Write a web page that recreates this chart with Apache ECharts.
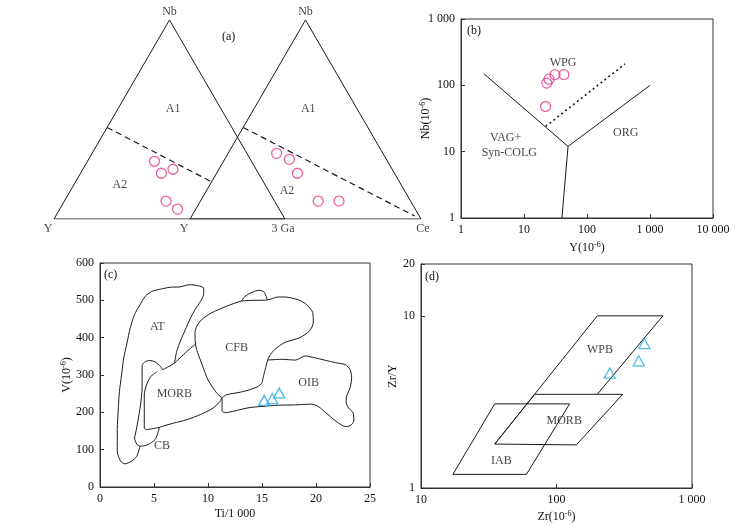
<!DOCTYPE html>
<html><head><meta charset="utf-8">
<script src="https://cdn.jsdelivr.net/npm/echarts@6/dist/echarts.min.js"></script>
<style>html,body{margin:0;padding:0;background:#fff}#c{width:744px;height:525px}</style>
</head><body><div id="c"></div>
<script>
// ================= DATA =================
// (a) ternary diagrams, points as [Nb, Y, third apex] (percent)
const aTriangle = [[100,0,0],[0,100,0],[0,0,100],[100,0,0]];
const aLeftSamples  = [[29,42,29],[25,36,39],[23,42,35],[9,47,44],[5,44,51]];   // Nb-Y-3Ga
const aRightSamples = [[33,46,21],[30,42,28],[23,42,35],[9,40,51],[9,31,60]];   // Nb-Y-Ce
const aLeftDivider  = [[46,54,0],[18.6,22.3,59.1]];
const aRightDivider = [[46,54,0],[1.5,2,96.5]];
const aLeftVertexNames  = ['Nb','Y','3 Ga'];
const aRightVertexNames = ['Nb','Y','Ce'];
const aLeftFields  = [['A1',[55.6,20.6,23.8]],['A2',[17,63,20]]];
const aRightFields = [['A1',[55.6,21,23.4]],['A2',[14,51,35]]];

// (b) Nb - Y
const bSamples = [[22,48],[23,108],[25,124],[31,145],[43,145]];
const bLineVAG = [[2.3,150],[50,12]];
const bLineORG = [[50,12],[1000,100]];
const bLineLow = [[50,12],[40,1]];
const bLineDotted = [[22,24],[400,210]];
const bFields = [['WPG',41.6,222],['VAG+',5.12,16.2],['Syn-COLG',5.85,9.65],['ORG',411,18.9]];
const bXTicks = [1,10,100,1000,10000];
const bXTickLabels = ['1','10','100','1 000','10 000'];
const bYTicks = [1,10,100,1000];
const bYTickLabels = ['1','10','100','1 000'];

// (c) Ti/1000 - V
const cSamples = [[15.2,232],[15.95,237],[16.6,252]];
const cFieldAT = [[6.9,332],[7.1,363],[7.5,395],[7.9,421],[8.3,448],[8.8,475],[9.3,497],[9.6,517],[9.6,533],[9.1,539],[8.3,542],[7.4,536],[6.5,535],[5.6,530],[4.8,524],[4.2,511],[3.7,488],[3.2,462],[2.8,426],[2.5,386],[2.2,346],[2.0,301],[1.8,256],[1.7,212],[1.6,154],[1.6,95],[1.9,70],[2.3,62],[2.9,69],[3.4,82],[3.7,109]];
const cFieldCB = [[5.8,314],[5.6,323],[5.1,335],[4.6,339],[4.2,336],[3.9,325],[3.9,296],[3.9,266],[3.75,220],[3.5,175],[3.3,145],[3.2,131],[3.4,115],[3.7,109],[4.4,113],[5.1,127],[5.4,149],[5.5,160]];
const cMorbTop = [[5.8,314],[6.9,332],[7.7,354],[8.6,377],[8.9,384]];
const cMorbLow = [[5.3,309],[4.7,296],[4.35,277],[4.1,247],[4.1,203],[4.1,158],[4.3,154],[4.8,156],[5.5,160],[6.3,167],[6.8,171],[8.0,180],[9.3,194],[10.5,212],[11.1,229],[11.3,239]];
const cFieldCFB = [[11.3,239],[10.8,252],[10.0,287],[9.4,332],[8.95,368],[8.8,395],[8.8,413],[8.95,430],[9.4,448],[10.3,466],[11.7,484],[13.1,498],[14.35,500],[15.5,501],[16.5,509],[17.1,509],[18.4,501],[19.1,489],[19.7,467],[19.75,440],[19.4,418],[18.5,400],[17.1,387],[16.2,369],[15.7,351],[15.5,338],[15.3,315],[15.1,293],[15.0,279],[14.6,269],[13.9,261],[13.0,254],[11.7,247],[11.3,239]];
const cCFBBump = [[13.1,498],[13.4,510],[13.9,519],[14.7,527],[15.2,522],[15.5,501]];
const cFieldOIB = [[15.5,340],[16.8,342],[18.1,340],[19.0,351],[19.9,346],[21.8,333],[22.7,328],[23.15,315],[23.3,293],[23.15,265],[22.8,238],[22.8,226],[23.0,212],[23.45,198],[23.5,176],[23.15,164],[22.7,162],[22.1,171],[21.1,194],[20.2,216],[19.6,222],[18.1,220],[16.5,219],[15.0,216],[13.7,212],[12.5,204],[11.6,199],[11.3,204],[11.3,239]];
const cFields = [['AT',5.31,428],['CFB',12.65,374],['MORB',6.88,249],['CB',5.74,109],['OIB',19.32,279]];
const cXTicks = [0,5,10,15,20,25];
const cXTickLabels = ['0','5','10','15','20','25'];
const cYTicks = [0,100,200,300,400,500,600];
const cYTickLabels = ['0','100','200','300','400','500','600'];

// (d) Zr - Zr/Y
const dSamples = [[247,4.65],[404,5.48],[445,6.9]];
const dFieldWPB = [[35,1.8],[200,10],[610,10],[200,3.5]];
const dFieldMORB = [[35,1.8],[69,3.5],[308,3.5],[140,1.78],[35,1.8]];
const dFieldIAB = [[17.2,1.2],[35,3.08],[125,3.08],[60,1.2],[17.2,1.2]];
const dFields = [['WPB',209,6.35],['MORB',114,2.47],['IAB',39.2,1.44]];
const dXTicks = [10,100,1000];
const dXTickLabels = ['10','100','1 000'];
const dYTicks = [1,10,20];
const dYTickLabels = ['1','10','20'];

// ================= STYLE / LAYOUT =================
const FONT = 'Liberation Serif';
const TXT = '#111';
const LN = '#1a1a1a';
const AX = '#333';
const PINK = '#e8378f';
const CYAN = '#22a6e0';
const A_OFFSET = 0.589;   // horizontal shift of the second ternary triangle (triangle side = 1)
const H = Math.sqrt(3) / 2;

function tern(p, off) {
  const s = p[0] + p[1] + p[2];
  const nb = p[0] / s, third = p[2] / s;
  return [off + third + nb / 2, nb * H];
}
function tickFmt(ticks, labels) {
  return function (v) {
    for (let i = 0; i < ticks.length; i++) {
      const t = ticks[i];
      if (Math.abs(t - v) < 1e-9 || (t !== 0 && Math.abs(t - v) / Math.abs(t) < 1e-3)) return labels[i];
    }
    return '';
  };
}
function lineS(idx, data, extra) {
  return Object.assign({
    type: 'line', xAxisIndex: idx, yAxisIndex: idx, data: data, showSymbol: false, symbol: 'none',
    silent: true, animation: false, lineStyle: { color: LN, width: 1 }, z: 3
  }, extra || {});
}
function textS(idx, items, extra) {
  return Object.assign({
    type: 'scatter', xAxisIndex: idx, yAxisIndex: idx, symbolSize: 0, silent: true, animation: false,
    data: items.map(t => ({ name: t[0], value: t[1] })),
    label: { show: true, position: 'inside', formatter: '{b}', fontFamily: FONT, fontSize: 12, color: TXT }, z: 5
  }, extra || {});
}
function markS(idx, data, symbol, size, color) {
  return {
    type: 'scatter', xAxisIndex: idx, yAxisIndex: idx, data: data, symbol: symbol, symbolSize: size,
    animation: false, silent: true, z: 6,
    itemStyle: { color: 'rgba(255,255,255,0)', borderColor: color, borderWidth: 1.3 }
  };
}
const labelStyle = { fontFamily: FONT, fontSize: 12, color: TXT };
const nameStyle = {
  fontFamily: FONT, fontSize: 12, color: TXT,
  rich: { sup: { fontFamily: FONT, fontSize: 8, color: TXT, verticalAlign: 'top', padding: [0, 0, 6, 0] } }
};
function valAxis(idx, type, min, max, ticks, labels, name, gap, extra) {
  return Object.assign({
    type: type, gridIndex: idx, min: min, max: max,
    axisLine: { show: true, onZero: false, lineStyle: { color: AX, width: 1 } },
    axisTick: { show: true, inside: true, length: 4, lineStyle: { color: AX } },
    axisLabel: Object.assign({ formatter: tickFmt(ticks, labels), margin: 6, showMinLabel: true, showMaxLabel: true }, labelStyle),
    splitLine: { show: false },
    name: name, nameLocation: 'middle', nameGap: gap, nameTextStyle: nameStyle, nameMoveOverlap: false
  }, extra || {});
}

const chart = echarts.init(document.getElementById('c'), null, { renderer: 'canvas' });

const series = [];
// ---- (a)
series.push(lineS(0, aTriangle.map(p => tern(p, 0))));
series.push(lineS(0, aTriangle.map(p => tern(p, A_OFFSET))));
series.push(lineS(0, aLeftDivider.map(p => tern(p, 0)), { lineStyle: { color: LN, width: 1.2, type: [6, 4] } }));
series.push(lineS(0, aRightDivider.map(p => tern(p, A_OFFSET)), { lineStyle: { color: LN, width: 1.2, type: [6, 4] } }));
series.push(markS(0, aLeftSamples.map(p => tern(p, 0)), 'circle', 10, PINK));
series.push(markS(0, aRightSamples.map(p => tern(p, A_OFFSET)), 'circle', 10, PINK));
series.push(textS(0, aLeftFields.map(f => [f[0], tern(f[1], 0)])));
series.push(textS(0, aRightFields.map(f => [f[0], tern(f[1], A_OFFSET)])));
// vertex labels
const vtx = [];
[[aLeftVertexNames, 0], [aRightVertexNames, A_OFFSET]].forEach(([names, off]) => {
  names.forEach((n, i) => {
    const p = tern(aTriangle[i], off);
    const top = i === 0;
    let dx = 0;
    if (n === 'Y') dx = -6;
    if (n === '3 Ga') dx = -2;
    if (n === 'Ce') dx = 2;
    vtx.push({ name: n, value: p, label: { position: top ? 'top' : 'bottom', distance: top ? 2 : 4, offset: [dx, 0] } });
  });
});
series.push({
  type: 'scatter', xAxisIndex: 0, yAxisIndex: 0, symbolSize: 0, silent: true, animation: false, data: vtx,
  label: { show: true, formatter: '{b}', fontFamily: FONT, fontSize: 12, color: TXT }
});
// ---- (b)
series.push(lineS(1, bLineVAG));
series.push(lineS(1, bLineORG));
series.push(lineS(1, bLineLow));
series.push(lineS(1, bLineDotted, { lineStyle: { color: LN, width: 1.6, type: [2, 3] } }));
series.push(markS(1, bSamples, 'circle', 10, PINK));
series.push(textS(1, bFields.map(f => [f[0], [f[1], f[2]]])));
// ---- (c)
[cFieldAT, cFieldCB, cMorbTop, cMorbLow, cFieldCFB, cCFBBump, cFieldOIB].forEach(d => series.push(lineS(2, d, { smooth: 0.25 })));
series.push(markS(2, cSamples, 'triangle', [11, 10], CYAN));
series.push(textS(2, cFields.map(f => [f[0], [f[1], f[2]]])));
// ---- (d)
[dFieldWPB, dFieldMORB, dFieldIAB].forEach(d => series.push(lineS(3, d)));
series.push(markS(3, dSamples, 'triangle', [11, 10], CYAN));
series.push(textS(3, dFields.map(f => [f[0], [f[1], f[2]]])));

const gridBox = { show: true, borderColor: AX, borderWidth: 1, backgroundColor: 'rgba(0,0,0,0)' };
chart.setOption({
  animation: false,
  backgroundColor: '#fff',
  grid: [
    { left: 54, top: 20, width: 367, height: 199, show: false },
    Object.assign({ left: 461, top: 19, width: 252, height: 199 }, gridBox),
    Object.assign({ left: 100, top: 263, width: 270, height: 224 }, gridBox),
    Object.assign({ left: 421, top: 264, width: 271, height: 224 }, gridBox)
  ],
  xAxis: [
    { type: 'value', gridIndex: 0, min: 0, max: 1 + A_OFFSET, show: false },
    valAxis(1, 'log', 1, 10000, bXTicks, bXTickLabels, 'Y(10{sup|-6})', 23, { logBase: 10 }),
    valAxis(2, 'value', 0, 25, cXTicks, cXTickLabels, 'Ti/1 000', 21, { interval: 5 }),
    valAxis(3, 'log', 10, 1000, dXTicks, dXTickLabels, 'Zr(10{sup|-6})', 22, { logBase: 10 })
  ],
  yAxis: [
    { type: 'value', gridIndex: 0, min: 0, max: H, show: false },
    valAxis(1, 'log', 1, 1000, bYTicks, bYTickLabels, 'Nb(10{sup|-6})', 28, { logBase: 10 }),
    valAxis(2, 'value', 0, 600, cYTicks, cYTickLabels, 'V(10{sup|-6})', 26, { interval: 100 }),
    valAxis(3, 'log', 1, 20, dYTicks, dYTickLabels, 'Zr/Y', 22, { logBase: 10 })
  ],
  graphic: [
    { type: 'text', left: 222, top: 31, style: { text: '(a)', font: '12px "Liberation Serif"', fill: TXT } },
    { type: 'text', left: 467, top: 25, style: { text: '(b)', font: '12px "Liberation Serif"', fill: TXT } },
    { type: 'text', left: 104, top: 269, style: { text: '(c)', font: '12px "Liberation Serif"', fill: TXT } },
    { type: 'text', left: 425, top: 271, style: { text: '(d)', font: '12px "Liberation Serif"', fill: TXT } }
  ],
  series: series
});
</script></body></html>
